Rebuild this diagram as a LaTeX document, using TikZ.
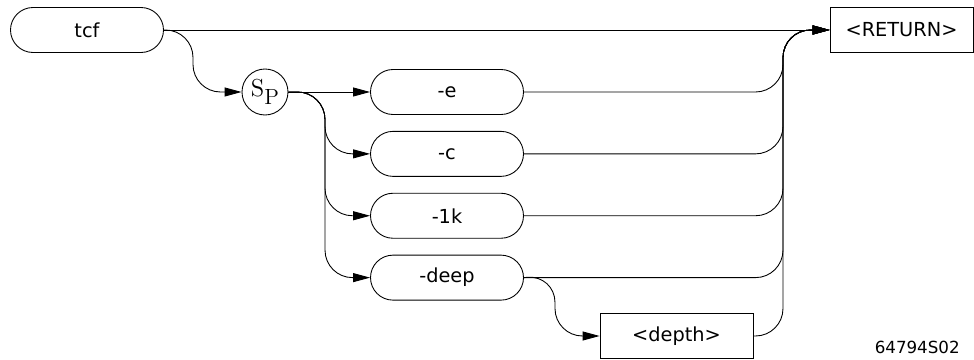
\documentclass[tikz,border=0pt]{standalone}
\usepackage{fontspec}
\usepackage{tikz}
\usetikzlibrary{arrows.meta,positioning}
\newfontfamily\plotfont{DejaVu Sans}

\begin{document}
\begin{tikzpicture}[
  node distance=0.32cm,
  font=\plotfont\fontsize{11}{13}\selectfont,
  line width=0.5pt,
  word/.style={rectangle, rounded corners=0.45cm, draw, align=center, minimum width=3.06cm, minimum height=0.9cm},
  parm/.style={rectangle, draw, align=center, minimum width=3.06cm, minimum height=0.9cm},
  spc/.style={circle, draw, minimum size=0.92cm, inner sep=0pt},
  arrow/.style={-{Triangle[length=3.4mm,width=1.8mm]}, rounded corners=0.55cm}
]
\useasboundingbox (0,0) rectangle (19.48,-7.2);

\node[word] (tcf) at (1.74,-0.6) {tcf};
\node[parm, minimum width=2.86cm] (ret) at (18.03,-0.6) {<RETURN>};
\node[spc, font=\rmfamily\fontsize{14}{15}\selectfont] (sp) at (5.3,-1.84) {S\raisebox{-0.75ex}{\fontsize{12.5}{13}\selectfont P}};

\node[word] (e) at (8.94,-1.84) {-e};
\node[word, below=of e] (c) {-c};
\node[word, below=of c] (k) {-1k};
\node[word, below=of k] (deep) {-deep};
\node[parm] (depth) at (13.53,-6.72) {<depth>};

\node[anchor=east, font=\plotfont\fontsize{9.5}{11}\selectfont] (fig) at (19.32,-6.94) {64794S02};

% junction points
\coordinate (jt) at (3.86,-0.6);
\coordinate (jl) at (6.5,-1.84);
\coordinate (jr) at (15.66,-0.6);
\coordinate (jd) at (11.1,-5.5);

\draw[arrow] (tcf) -- (ret);
\draw[arrow] (tcf.east) -- (jt) |- (sp.west);

\draw[arrow] (sp) -- (e);
\draw[arrow] (sp.east) -- (jl) |- (c.west);
\draw[arrow] (sp.east) -- (jl) |- (k.west);
\draw[arrow] (sp.east) -- (jl) |- (deep.west);

\draw[arrow] (e.east) -| (jr) -- (ret.west);
\draw[arrow] (c.east) -| (jr) -- (ret.west);
\draw[arrow] (k.east) -| (jr) -- (ret.west);
\draw[arrow] (deep.east) -| (jr) -- (ret.west);
\draw[arrow] (depth.east) -| (jr) -- (ret.west);

\draw[arrow] (deep.east) -- (jd) |- (depth.west);

\end{tikzpicture}
\end{document}
